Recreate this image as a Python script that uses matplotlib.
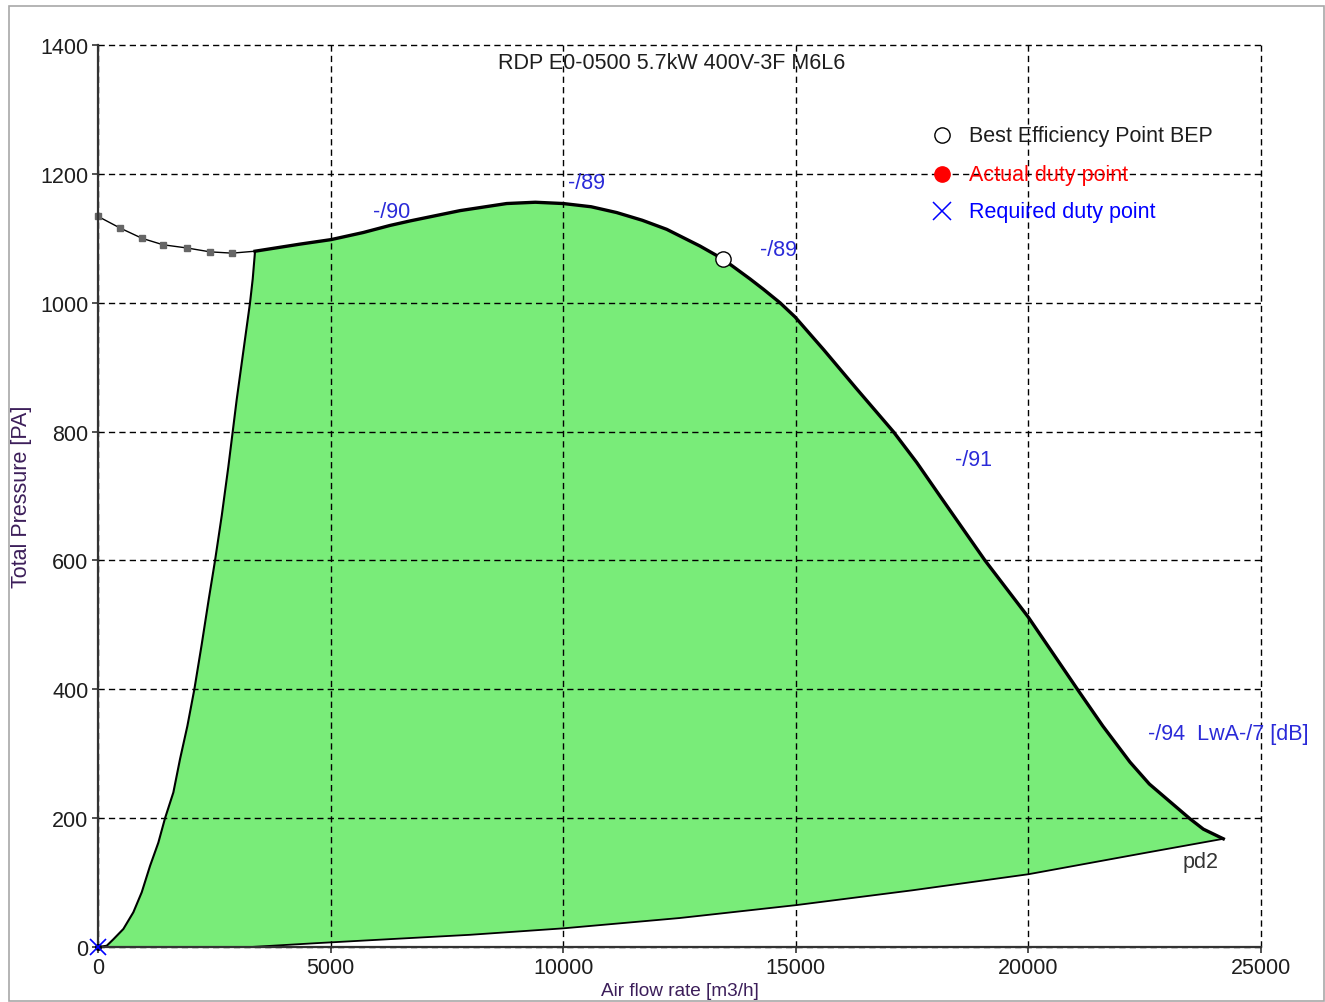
import matplotlib
matplotlib.use("Agg")
import matplotlib.pyplot as plt
from matplotlib.patches import Rectangle

plt.rcParams["font.family"] = ["Liberation Sans", "DejaVu Sans"]

# fan curve (total pressure vs air flow)
fan_q = [3375, 4342, 5009, 5700, 6277, 6707, 7782, 8785, 9400, 10000, 10600,
         11148, 11700, 12223, 12940, 13429, 14015, 14302, 14660, 14983, 15600,
         16300, 17096, 17600, 18099, 19067, 19998, 21073, 21600, 22184, 22600,
         22972, 23474, 23760, 24190]
fan_p = [1080, 1091, 1098, 1109, 1120, 1127, 1143, 1154, 1156, 1154, 1149,
         1140, 1128, 1114, 1088, 1068, 1037, 1021, 1000, 978, 927,
         867, 800, 752, 700, 600, 512, 398, 343, 287, 253,
         230, 199, 183, 168]

# unstable part of the curve (grey markers)
stall_q = [0, 473, 946, 1397, 1913, 2408, 2881, 3375]
stall_p = [1134, 1116, 1100, 1090, 1085, 1079, 1077, 1080]

# left limit of the working range
limit_q = [0, 187, 329, 544, 759, 939, 1118, 1296, 1440, 1619, 1763, 1920,
           2070, 2229, 2380, 2515, 2660, 2800, 2895, 2981, 3124, 3267, 3325, 3375]
limit_p = [0, 2, 12, 28, 54, 85, 126, 162, 200, 240, 292, 343,
           400, 470, 540, 600, 670, 745, 800, 850, 925, 1000, 1037, 1080]

# dynamic pressure line pd2
pd2_q = [3270, 4690, 5700, 8000, 10000, 12500, 15000, 17500, 20000, 22500, 24190]
pd2_p = [0, 6, 10, 19, 29, 45, 65, 88, 113, 146, 168]

bep_q, bep_p = [13429], [1068]

sound_labels = ["-/90", "-/89", "-/89", "-/91", "-/94  LwA-/7 [dB]"]
sound_q = [5913, 10103, 14230, 18422, 22571]
sound_p = [1141, 1187, 1083, 757, 332]

x_ticks = [0, 5000, 10000, 15000, 20000, 25000]
y_ticks = [0, 200, 400, 600, 800, 1000, 1200, 1400]

TITLE = "RDP E0-0500 5.7kW 400V-3F M6L6"
BLUE = "#2a2ad8"
DARK = "#1e1e1e"
PURPLE = "#3c1e5a"
FS = 15.5

fig = plt.figure(figsize=(13.25, 10.03), dpi=100, facecolor="white")
ax = fig.add_axes([0.0740, 0.0548, 0.8777, 0.8993])

# frame round the whole picture
fig.patches.append(Rectangle((9 / 1325, 1 / 1003), 1315 / 1325, 995 / 1003,
                             transform=fig.transFigure, fill=False,
                             edgecolor="#a8a8a8", linewidth=1.2))

# working range polygon
poly_q = limit_q + fan_q[1:] + pd2_q[::-1] + [0]
poly_p = limit_p + fan_p[1:] + pd2_p[::-1] + [0]
ax.fill(poly_q, poly_p, color="#79ec79", zorder=1, linewidth=0)

ax.plot(limit_q, limit_p, color="black", lw=1.5, zorder=3)
ax.plot(pd2_q, pd2_p, color="black", lw=1.3, zorder=3)
ax.plot(fan_q, fan_p, color="black", lw=2.4, zorder=4, solid_joinstyle="round")
ax.plot(stall_q, stall_p, color="black", lw=1.0, zorder=3)
ax.plot(stall_q[:-1], stall_p[:-1], ls="none", marker="s", ms=5,
        color="#666666", zorder=4, clip_on=False)

ax.plot(bep_q, bep_p, ls="none", marker="o", ms=11, mfc="white",
        mec="black", mew=1.0, zorder=6)
# required duty point at the origin
ax.plot([0], [0], ls="none", marker="o", ms=4, color="black", zorder=6, clip_on=False)
ax.plot([0], [0], ls="none", marker="x", ms=12, mew=1.2, color="blue", zorder=7, clip_on=False)

for lab, q, p in zip(sound_labels, sound_q, sound_p):
    ax.text(q, p, lab, color=BLUE, fontsize=FS, ha="left", va="center", zorder=8)
ax.text(23323, 132, "pd2", color="#333333", fontsize=FS, ha="left", va="center")

ax.text(0.4935, 0.981, TITLE, transform=ax.transAxes, ha="center", va="center",
        fontsize=FS, color=DARK)

# legend drawn by hand
leg_y = [0.900, 0.857, 0.816]
ax.plot([0.7257], [leg_y[0]], transform=ax.transAxes, marker="o", ms=11,
        mfc="white", mec="black", mew=1.0, ls="none", zorder=8)
ax.plot([0.7257], [leg_y[1]], transform=ax.transAxes, marker="o", ms=11,
        color="red", ls="none", zorder=8)
ax.plot([0.7257], [leg_y[2]], transform=ax.transAxes, marker="x", ms=13,
        mew=1.1, color="blue", ls="none", zorder=8)
ax.text(0.749, leg_y[0], "Best Efficiency Point BEP", transform=ax.transAxes,
        va="center", fontsize=FS, color=DARK, zorder=8)
ax.text(0.749, leg_y[1], "Actual duty point", transform=ax.transAxes,
        va="center", fontsize=FS, color="red", zorder=8)
ax.text(0.749, leg_y[2], "Required duty point", transform=ax.transAxes,
        va="center", fontsize=FS, color="blue", zorder=8)

ax.set_xlim(0, 25000)
ax.set_ylim(0, 1400)
ax.set_xticks(x_ticks)
ax.set_yticks(y_ticks)
ax.set_xticklabels([str(t) for t in x_ticks])
ax.set_yticklabels([str(t) for t in y_ticks])
ax.tick_params(axis="both", labelsize=FS, labelcolor=DARK, color="#333333",
               direction="out", length=4, width=1.2, pad=3)
ax.grid(True, color="black", linewidth=1.0, linestyle=(0, (4.5, 3.0)))
ax.set_axisbelow(False)
for gl in ax.get_xgridlines() + ax.get_ygridlines():
    gl.set_zorder(2)
    gl.set_clip_on(False)

for side in ["top", "right"]:
    ax.spines[side].set_visible(False)
for side in ["left", "bottom"]:
    ax.spines[side].set_color("#333333")
    ax.spines[side].set_linewidth(1.6)
    ax.spines[side].set_zorder(5)

ax.set_xlabel("Air flow rate [m3/h]", fontsize=13.7, color=PURPLE, labelpad=3)
ax.set_ylabel("Total Pressure [PA]", fontsize=FS, color=PURPLE, labelpad=6)

fig.savefig("out.png", dpi=100, facecolor="white")
